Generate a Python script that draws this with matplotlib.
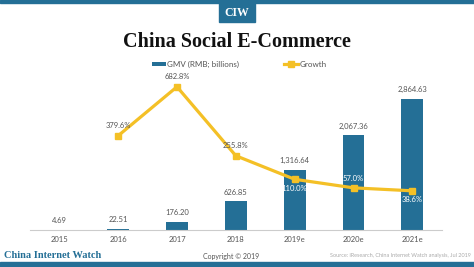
#!/usr/bin/env python3

import matplotlib
matplotlib.use('Agg')
from matplotlib import pyplot as plt
from matplotlib.patches import Rectangle


years = ['2015', '2016', '2017', '2018', '2019e', '2020e', '2021e']
gmv = [4.69, 22.51, 176.20, 626.85, 1316.64, 2067.36, 2864.63]
growth_years = [1, 2, 3, 4, 5, 6]
growth = [379.6, 682.8, 255.8, 110.0, 57.0, 38.6]

blue = '#246f96'
gold = '#f4c026'
grey = '#555555'

plt.rcParams['font.family'] = ['Lato', 'DejaVu Sans']

fig = plt.figure(figsize=(4.74, 2.67), dpi=100)
ax = fig.add_axes([0.063, 0.1386, 0.869, 0.58])
x = list(range(len(years)))
bars = ax.bar(x, gmv, width=0.37, color=blue, label='GMV (RMB; billions)', zorder=2)
ax.set_xlim(-0.5, 6.5)
ax.set_ylim(0, 3380)
for xi, v in zip(x, gmv):
    ax.annotate(f'{v:,.2f}', (xi, v), xytext=(0, 4), textcoords='offset points',
                ha='center', va='bottom', fontsize=5.5, color=grey)

for s in ['top', 'right', 'left']:
    ax.spines[s].set_visible(False)
ax.spines['bottom'].set_color('#cccccc')
ax.spines['bottom'].set_linewidth(0.8)
ax.set_yticks([])
ax.set_xticks(x)
ax.set_xticklabels(years, fontsize=5.5, color=grey)
ax.tick_params(axis='x', length=0, pad=4)

ax2 = ax.twinx()
ax2.set_ylim(-204, 755)
ax2.axis('off')
line, = ax2.plot(growth_years, growth, color=gold, lw=2.3, marker='s', ms=5,
                 label='Growth', zorder=3)
offsets = [(0, 5, 'bottom', grey), (0, 5, 'bottom', grey), (0, 5, 'bottom', grey),
           (0, -4, 'top', 'white'), (0, 4, 'bottom', 'white'), (0, -4, 'top', 'white')]
for xi, v, (dx, dy, va, c) in zip(growth_years, growth, offsets):
    ax2.annotate(f'{v:.1f}%', (xi, v), xytext=(dx, dy), textcoords='offset points',
                 ha='center', va=va, fontsize=5.5, color=c, zorder=4)

fig.legend(handles=[bars, line], loc='center', bbox_to_anchor=(0.505, 0.76), ncol=2,
           frameon=False, fontsize=5.8, labelcolor=grey, columnspacing=5.6,
           handlelength=1.7, handletextpad=0.2, handleheight=0.4)

# header / footer decorations
fig.patches.append(Rectangle((0, 1 - 3 / 267), 1, 3 / 267, transform=fig.transFigure,
                             color=blue, zorder=0))
fig.patches.append(Rectangle((219 / 474, 1 - 22 / 267), 36 / 474, 19 / 267,
                             transform=fig.transFigure, color=blue))
fig.text(237 / 474, 1 - 12.5 / 267, 'CIW', ha='center', va='center', color='white',
         fontsize=8.5, fontweight='bold', family='Liberation Serif')
fig.text(0.5, 1 - 42 / 267, 'China Social E-Commerce', ha='center', va='center',
         fontsize=14.5, fontweight='bold', family='Liberation Serif', color='#111111')

fig.patches.append(Rectangle((0, 0), 1, 5 / 267, transform=fig.transFigure, color=blue))
fig.text(4 / 474, 1 - 256 / 267, 'China Internet Watch', ha='left', va='center',
         fontsize=7.5, fontweight='bold', family='Liberation Serif', color=blue)
fig.text(231 / 474, 1 - 256 / 267, 'Copyright \u00a9 2019', ha='center', va='center',
         fontsize=5, color=grey)
fig.text(471 / 474, 1 - 256 / 267, 'Source: iResearch, China Internet Watch analysis, Jul 2019',
         ha='right', va='center', fontsize=4, color='#aaaaaa')

fig.savefig('out.png', dpi=100)
